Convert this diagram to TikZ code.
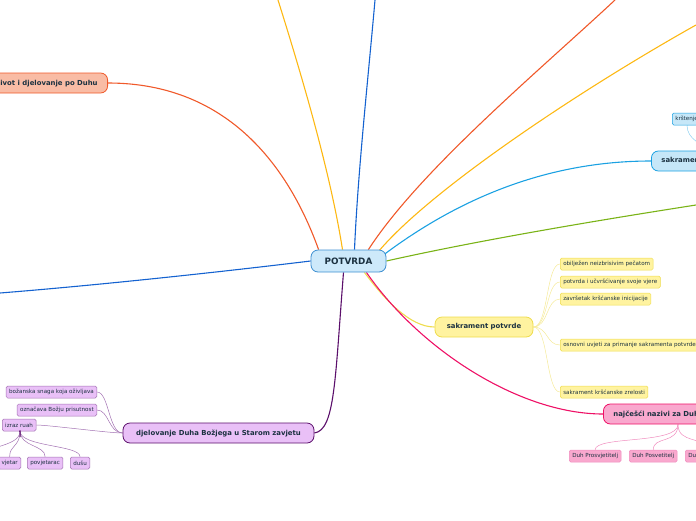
\documentclass[tikz,border=0pt]{standalone}
\usepackage{fontspec}
\setmainfont{DejaVu Sans}
\usetikzlibrary{calc,backgrounds}

\definecolor{inkcol}{HTML}{1B3140}
\definecolor{rootfill}{HTML}{CDE9FA}\definecolor{rootline}{HTML}{3D8FD1}
\definecolor{redline}{HTML}{F0592A}\definecolor{redfill}{HTML}{F9BCA5}
\definecolor{goldline}{HTML}{FDB813}
\definecolor{blueline}{HTML}{1462D0}
\definecolor{skyline}{HTML}{1BA1E2}\definecolor{skyfill}{HTML}{C6E7F8}
\definecolor{greenline}{HTML}{7AB317}
\definecolor{yelline}{HTML}{EEDC4C}\definecolor{yelfill}{HTML}{FFF3A0}\definecolor{yelthin}{HTML}{F5EA9A}
\definecolor{pinkline}{HTML}{EE1166}\definecolor{pinkfill}{HTML}{F9A8CE}\definecolor{pinkthin}{HTML}{F08CBE}
\definecolor{purpline}{HTML}{5B0F6B}\definecolor{purpfill}{HTML}{E9C0F7}\definecolor{purpthin}{HTML}{A373B3}

\begin{document}
\begin{tikzpicture}[x=1pt,y=-1pt,
  topic/.style={draw,rounded corners=7pt,line width=.8pt,minimum height=20pt,inner xsep=10pt,
    font=\bfseries\fontsize{6.9}{7.5}\selectfont,text=inkcol},
  leaf/.style={draw,rounded corners=1.5pt,line width=.5pt,minimum height=12pt,inner xsep=3pt,inner ysep=0pt,
    font=\fontsize{5.6}{6}\selectfont,text=inkcol},
  branch/.style={line width=1.1pt},
  twig/.style={line width=.5pt}]
\useasboundingbox (0,0) rectangle (696,520);

% centre
\node[topic,fill=rootfill,draw=rootline,minimum width=75pt,minimum height=22pt,font=\bfseries\fontsize{8.8}{9}\selectfont] (root) at (348.5,261) {POTVRDA};

% main topics
\node[topic,fill=redfill,draw=redline,anchor=east] (zivot) at (108,83) {život i djelovanje po Duhu};
\node[topic,fill=skyfill,draw=skyline,anchor=west] (sakr) at (651,161) {sakrament potvrde};
\node[leaf,fill=skyfill,draw=skyline,anchor=west] (krst) at (672,119) {krštenje i potvrda};
\node[topic,fill=yelfill,draw=yelline,minimum width=98pt] (potv) at (484,327) {sakrament potvrde};
\node[topic,fill=pinkfill,draw=pinkline,anchor=west] (nazivi) at (603,414) {najčešći nazivi za Duha Svetoga};
\node[topic,fill=purpfill,draw=purpline,minimum width=191pt] (stari) at (218.5,433) {djelovanje Duha Božjega u Starom zavjetu};

% leaves of sakrament potvrde
\node[leaf,fill=yelfill,draw=yelline,anchor=west] (p1) at (560,264) {obilježen neizbrisivim pečatom};
\node[leaf,fill=yelfill,draw=yelline,anchor=west] (p2) at (560,282) {potvrda i učvršćivanje svoje vjere};
\node[leaf,fill=yelfill,draw=yelline,anchor=west] (p3) at (560,299) {završetak kršćanske inicijacije};
\node[leaf,fill=yelfill,draw=yelline,anchor=west] (p4) at (560,345) {osnovni uvjeti za primanje sakramenta potvrde};
\node[leaf,fill=yelfill,draw=yelline,anchor=west] (p5) at (560,392) {sakrament kršćanske zrelosti};

% leaves of nazivi
\node[leaf,fill=pinkfill,draw=pinkthin,anchor=west] (n1) at (569,456) {Duh Prosvjetitelj};
\node[leaf,fill=pinkfill,draw=pinkthin,anchor=west] (n2) at (629,456) {Duh Posvetitelj};
\node[leaf,fill=pinkfill,draw=pinkthin,anchor=west] (n3) at (685,456) {Duh Tješitelj};

% leaves of stari zavjet
\node[leaf,fill=purpfill,draw=purpthin,anchor=east] (s1) at (97,392) {božanska snaga koja oživljava};
\node[leaf,fill=purpfill,draw=purpthin,anchor=east] (s2) at (97,410) {označava Božju prisutnost};
\node[leaf,fill=purpfill,draw=purpthin,anchor=west] (s3) at (2,425) {izraz ruah};
\node[leaf,fill=purpfill,draw=purpthin,anchor=east] (r1) at (21,463) {vjetar};
\node[leaf,fill=purpfill,draw=purpthin,anchor=west] (r2) at (27,463) {povjetarac};
\node[leaf,fill=purpfill,draw=purpthin,anchor=west] (r3) at (70,463) {dušu};
\node[leaf,fill=purpfill,draw=purpthin,anchor=east] (r0) at (-6,463) {dah};

\coordinate (topY) at (278,0); \coordinate (topB) at (375,0); \coordinate (topR) at (615,0);
\coordinate (topG) at (696,25); \coordinate (rightG) at (696,205); \coordinate (leftB) at (0,293);
\coordinate (ruah) at (20,431); \coordinate (krstend) at (712,150);

\begin{pgfonlayer}{background}
% branches
\draw[branch,redline] (zivot.east) .. controls (230,83) and (290,170) .. ($(root.north west)+(8,0)$);
\draw[branch,goldline] (topY) .. controls (300,70) and (330,170) .. ($(root.north)+(-6,0)$);
\draw[branch,blueline] (topB) .. controls (368,80) and (358,170) .. ($(root.north)+(6,0)$);
\draw[branch,redline] (topR) .. controls (540,70) and (420,170) .. ($(root.north east)+(-18,0)$);
\draw[branch,goldline] (topG) .. controls (580,90) and (430,190) .. ($(root.north east)+(-8,2)$);
\draw[branch,skyline] ($(root.east)+(-3,-6)$) .. controls (470,190) and (560,161) .. (sakr.west);
\draw[branch,greenline] (root.east) .. controls (480,240) and (600,220) .. (rightG);
\draw[branch,blueline] (leftB) .. controls (100,285) and (220,272) .. (root.west);
\draw[branch,yelline] ($(root.south east)+(-22,0)$) .. controls (385,300) and (410,327) .. (potv.west);
\draw[branch,pinkline] ($(root.south east)+(-20,0)$) .. controls (420,350) and (520,414) .. (nazivi.west);
\draw[branch,purpline] ($(root.south)+(-5,0)$) .. controls (335,380) and (335,430) .. (stari.east);
% twigs
\draw[twig,skyline!50] ($(krst.south west)+(15,0)$) .. controls +(0,14) and +(-10,-5) .. (krstend);
\foreach \p in {p1,p2,p3,p4,p5}
  \draw[twig,yelthin] (potv.east) .. controls +(15,0) and +(-14,0) .. (\p.west);
\foreach \n in {n1,n2,n3}
  \draw[twig,pinkthin] ($(nazivi.south west)+(75,0)$) .. controls +(0,20) and +(0,-14) .. (\n.north);
\foreach \s in {s1,s2,s3}
  \draw[twig,purpthin] (stari.west) .. controls +(-14,0) and +(12,0) .. (\s.east);
\foreach \r in {r0,r1,r2,r3}
  \draw[twig,purpthin] (ruah) .. controls +(0,16) and +(0,-12) .. (\r.north);
\end{pgfonlayer}
\draw[line width=1pt,purpline] (s3.south) -- (ruah) -- ++(0,6);
\end{tikzpicture}
\end{document}
